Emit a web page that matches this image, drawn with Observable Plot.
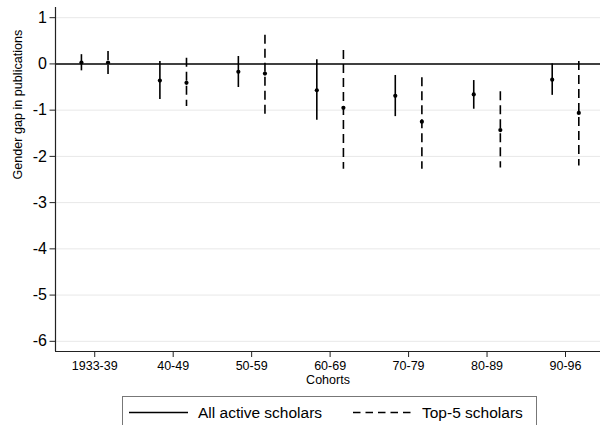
<!DOCTYPE html>
<html>
<head>
<meta charset="utf-8">
<script src="https://cdn.jsdelivr.net/npm/d3@7"></script>
<script src="https://cdn.jsdelivr.net/npm/@observablehq/plot@0.6"></script>
<style>
  html, body { margin: 0; padding: 0; background: #fff; overflow: hidden; }
  body { font-family: "Liberation Sans", Arial, Helvetica, sans-serif; width: 600px; height: 425px; position: relative; }
  #legend { position: absolute; left: 122px; top: 396px; width: 415px; height: 40px; border: 1.5px solid #777; box-sizing: border-box; background: #fff; }
  #legend svg { position: absolute; left: 0; top: 0; }
</style>
</head>
<body>
<div id="chart"></div>
<div id="legend"></div>
<script>
// Data
const cohorts = ["1933-39", "40-49", "50-59", "60-69", "70-79", "80-89", "90-96"];
const allEst = [0.03, -0.36, -0.17, -0.57, -0.69, -0.66, -0.34];
const allLo  = [-0.15, -0.77, -0.51, -1.22, -1.14, -0.98, -0.68];
const allHi  = [0.20, 0.05, 0.16, 0.09, -0.25, -0.36, 0.00];
const topEst = [0.03, -0.41, -0.21, -0.95, -1.25, -1.43, -1.06];
const topLo  = [-0.23, -0.92, -1.10, -2.28, -2.28, -2.25, -2.21];
const topHi  = [0.27, 0.12, 0.62, 0.29, -0.30, -0.60, 0.05];
const yTicks = [-6, -5, -4, -3, -2, -1, 0, 1];
const seriesNames = ["All active scholars", "Top-5 scholars"];

const allRows = cohorts.map((c, i) => ({pos: i + 1, est: allEst[i], lo: allLo[i], hi: allHi[i]}));
const topRows = cohorts.map((c, i) => ({pos: i + 1, est: topEst[i], lo: topLo[i], hi: topHi[i]}));

const xDom = [0.5, 7.446];
const yDom = [-6.22, 1.22];
const off = 13.3;

const chart = Plot.plot({
  width: 600,
  height: 395,
  marginLeft: 55,
  marginRight: 0,
  marginTop: 7,
  marginBottom: 44,
  style: {fontFamily: "Liberation Sans, Arial, Helvetica, sans-serif", background: "#fff", color: "#000"},
  x: {type: "linear", domain: xDom},
  y: {domain: yDom},
  marks: [
    Plot.ruleY(yTicks.filter(d => d !== 0), {stroke: "#e8e8e8", strokeWidth: 1}),
    Plot.ruleY([0], {stroke: "#000", strokeWidth: 1.5}),
    Plot.ruleX(allRows, {x: "pos", y1: "lo", y2: "hi", dx: -off, stroke: "#000", strokeWidth: 1.6}),
    Plot.ruleX(topRows, {x: "pos", y1: "hi", y2: "lo", dx: off, stroke: "#000", strokeWidth: 1.6, strokeDasharray: "9,5"}),
    Plot.dot(allRows, {x: "pos", y: "est", dx: -off, r: 2.1, fill: "#000", stroke: null}),
    Plot.dot(topRows, {x: "pos", y: "est", dx: off, r: 2.1, fill: "#000", stroke: null}),
    Plot.ruleX([xDom[0]], {stroke: "#222", strokeWidth: 1.2}),
    Plot.ruleY([yDom[0]], {stroke: "#222", strokeWidth: 1.2}),
    Plot.axisY({ticks: yTicks, tickFormat: d => String(d), tickSize: 5.5, tickPadding: 3, fontSize: 16, label: null, stroke: "#222"}),
    Plot.axisX({ticks: cohorts.map((c, i) => i + 1), tickFormat: d => cohorts[d - 1], tickSize: 6, tickPadding: 4, fontSize: 12.5, label: null, stroke: "#222"}),
    Plot.text(["Cohorts"], {frameAnchor: "bottom", dy: 32, fontSize: 12.5, fill: "#000"}),
    Plot.text(["Gender gap in publications"], {frameAnchor: "left", rotate: -90, dx: -38, fontSize: 12.6, fill: "#000"})
  ]
});
document.getElementById("chart").appendChild(chart);

// Legend (HTML box below the plot)
const leg = d3.select("#legend").append("svg").attr("width", 415).attr("height", 40);
const items = [
  {name: seriesNames[0], x1: 6, x2: 65, tx: 75, dash: null},
  {name: seriesNames[1], x1: 230, x2: 291, tx: 299, dash: "7.5,5"}
];
items.forEach(it => {
  leg.append("line").attr("x1", it.x1).attr("x2", it.x2).attr("y1", 15.5).attr("y2", 15.5)
    .attr("stroke", "#000").attr("stroke-width", 1.5).attr("stroke-dasharray", it.dash);
  leg.append("text").attr("x", it.tx).attr("y", 15.5).attr("dy", "0.36em")
    .attr("font-size", 15.5).attr("font-family", "Liberation Sans, Arial, Helvetica, sans-serif").text(it.name);
});
</script>
</body>
</html>
